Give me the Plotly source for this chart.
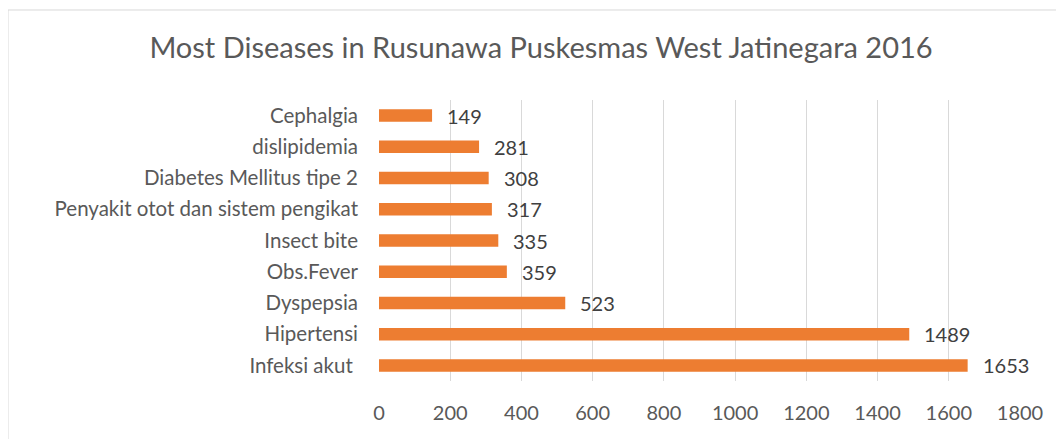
import plotly.graph_objects as go

diseases = ['Infeksi akut ', 'Hipertensi', 'Dyspepsia', 'Obs.Fever', 'Insect bite',
            'Penyakit otot dan sistem pengikat', 'Diabetes Mellitus tipe 2',
            'dislipidemia', 'Cephalgia']
cases = [1653, 1489, 523, 359, 335, 317, 308, 281, 149]
x_ticks = [0, 200, 400, 600, 800, 1000, 1200, 1400, 1600, 1800]

font_name = 'Lato, Carlito, Calibri, sans-serif'

fig = go.Figure(go.Bar(
    x=cases,
    y=diseases,
    orientation='h',
    marker=dict(color='#ED7D31', line=dict(width=0)),
    width=0.4,
    hoverinfo='x+y',
))

# value labels to the right of each bar
for name, val in zip(diseases, cases):
    fig.add_annotation(
        x=val, y=name, text=str(val),
        showarrow=False, xanchor='left', yanchor='middle',
        xshift=13, yshift=0,
        font=dict(family=font_name, size=20, color='#404040'),
    )

# chart border like the Excel chart area
fig.add_shape(type='rect', xref='paper', yref='paper',
              x0=-0.5788, x1=1.2, y0=-0.4, y1=1.3203,
              line=dict(color='#D9D9D9', width=1), layer='below')

# page body has an 8px margin, so the figure is a bit smaller than the window
fig.update_layout(
    width=1056,
    height=431,
    template='plotly_white',
    plot_bgcolor='white',
    paper_bgcolor='white',
    margin=dict(l=371, r=44, t=92, b=58, autoexpand=False),
    showlegend=False,
    title=dict(
        text='Most Diseases in Rusunawa Puskesmas West Jatinegara 2016',
        x=533 / 1056, xref='container', xanchor='center',
        y=1 - 40 / 431, yref='container', yanchor='middle',
        font=dict(family=font_name, size=29, color='#595959'),
    ),
    xaxis=dict(
        range=[0, 1800],
        tickvals=x_ticks,
        showgrid=True,
        gridcolor='#D9D9D9',
        gridwidth=1,
        zeroline=False,
        showline=False,
        ticks='',
        ticklabelstandoff=18,
        tickfont=dict(family=font_name, size=20, color='#595959'),
    ),
    yaxis=dict(
        categoryorder='array',
        categoryarray=diseases,
        showgrid=False,
        zeroline=False,
        showline=False,
        ticks='',
        ticklabelstandoff=20,
        tickfont=dict(family=font_name, size=20.5, color='#595959'),
    ),
)

fig.write_html('out.html')
